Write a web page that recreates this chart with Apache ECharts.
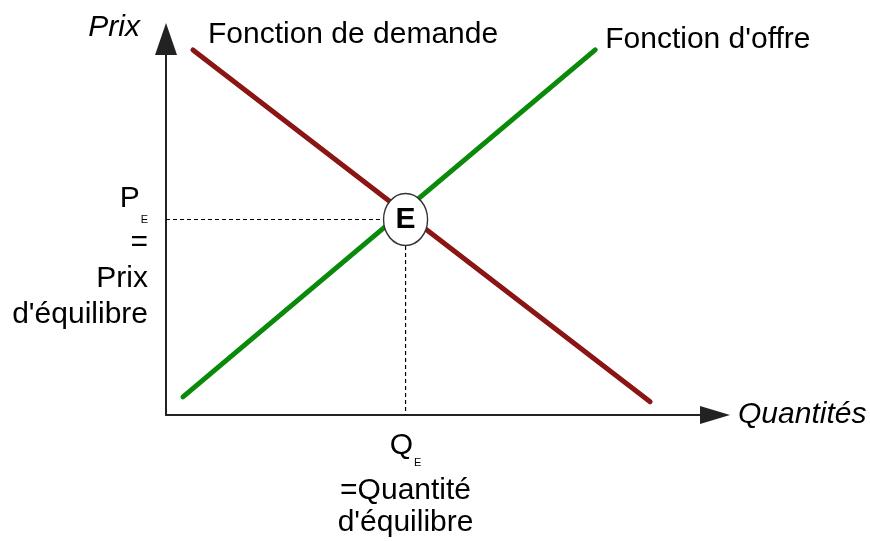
<!doctype html>
<html>
<head>
<meta charset="UTF-8">
<title>Offre et demande</title>
<script src="https://cdn.jsdelivr.net/npm/echarts@6/dist/echarts.min.js"></script>
<style>
  html, body { margin: 0; padding: 0; background: #fff; }
  #main { width: 870px; height: 541px; }
</style>
</head>
<body>
<div id="main"></div>
<script type="text/javascript">
// données (unités arbitraires)
var demandeQ = [97.0, 5.4];
var demandeP = [3.5, 97.1];
var offreQ = [3.4, 86.0];
var offreP = [4.8, 97.1];
var QE = 48;
var PE = 52;

var police = 'Liberation Sans, Arial, sans-serif';

function points(qs, ps) {
    var out = [];
    for (var i = 0; i < qs.length; i++) out.push([qs[i], ps[i]]);
    return out;
}

var myChart = echarts.init(document.getElementById('main'));

var option = {
    animation: false,
    textStyle: { fontFamily: police, color: '#000' },
    grid: { left: 166, right: 155, top: 39, bottom: 126 },
    xAxis: {
        type: 'value',
        min: 0,
        max: 110,
        name: 'Quantités',
        nameLocation: 'end',
        nameGap: 23,
        nameTextStyle: { fontFamily: police, fontSize: 30, fontStyle: 'italic', color: '#000' },
        axisLine: {
            lineStyle: { color: '#222', width: 2 },
            symbol: ['none', 'triangle'],
            symbolSize: [18, 30]
        },
        axisTick: { show: false },
        splitLine: { show: false },
        axisLabel: {
            customValues: [QE],
            margin: 14,
            formatter: function () {
                return '{q|Q}{s|E}\n{t|=Quantité}\n{t|d\'équilibre}';
            },
            rich: {
                q: { fontFamily: police, fontSize: 30, height: 34, verticalAlign: 'top', color: '#000' },
                s: { fontFamily: police, fontSize: 11, height: 11, verticalAlign: 'top', padding: [28, 0, 7, 1], color: '#000' },
                t: { fontFamily: police, fontSize: 30, height: 32, color: '#000' }
            }
        }
    },
    yAxis: {
        type: 'value',
        min: 0,
        max: 100,
        name: 'Prix',
        nameLocation: 'end',
        nameGap: 11,
        nameTextStyle: {
            fontFamily: police, fontSize: 30, fontStyle: 'italic', color: '#000',
            align: 'right', verticalAlign: 'middle', padding: [0, 26, 0, 0]
        },
        axisLine: {
            lineStyle: { color: '#222', width: 2 },
            symbol: ['none', 'triangle'],
            symbolSize: [22, 32]
        },
        axisTick: { show: false },
        splitLine: { show: false },
        axisLabel: {
            customValues: [PE],
            margin: 18,
            align: 'right',
            verticalAlign: 'middle',
            formatter: function () {
                return '{gap| }\n{p|P}{s|E}\n{t|=}\n{t|Prix}\n{t|d\'équilibre}';
            },
            rich: {
                gap: { fontSize: 10, height: 76 },
                p: { fontFamily: police, fontSize: 30, height: 34, verticalAlign: 'top', color: '#000' },
                s: { fontFamily: police, fontSize: 11, height: 11, verticalAlign: 'top', padding: [32, 0, 0, 1], color: '#000' },
                t: { fontFamily: police, fontSize: 30, height: 36, align: 'right', color: '#000' }
            }
        }
    },
    series: [
        {
            name: 'pointillés',
            type: 'line',
            data: [[0, PE], [QE, PE], [QE, 0]],
            showSymbol: false,
            silent: true,
            lineStyle: { color: '#000', width: 1.2, type: [4, 3] },
            z: 1
        },
        {
            name: 'Fonction de demande',
            type: 'line',
            data: points(demandeQ, demandeP),
            showSymbol: false,
            lineStyle: { color: '#8b1414', width: 5, cap: 'round' },
            endLabel: {
                show: true,
                formatter: 'Fonction de demande',
                fontFamily: police,
                fontSize: 30,
                color: '#000',
                distance: 5,
                offset: [10, -15]
            },
            z: 2
        },
        {
            name: 'Fonction d\'offre',
            type: 'line',
            data: points(offreQ, offreP),
            showSymbol: false,
            lineStyle: { color: '#0a8a0a', width: 5, cap: 'round' },
            endLabel: {
                show: true,
                formatter: 'Fonction d\'offre',
                fontFamily: police,
                fontSize: 30,
                color: '#000',
                distance: 5,
                offset: [5, -10]
            },
            z: 2
        },
        {
            name: 'E',
            type: 'scatter',
            data: [[QE, PE]],
            symbol: 'circle',
            symbolSize: [44, 52],
            itemStyle: { color: '#fff', borderColor: '#333', borderWidth: 1.5, opacity: 1 },
            label: {
                show: true,
                position: 'inside',
                formatter: 'E',
                fontFamily: police,
                fontSize: 30,
                fontWeight: 'bold',
                color: '#000'
            },
            z: 5
        }
    ]
};

myChart.setOption(option);
</script>
</body>
</html>
